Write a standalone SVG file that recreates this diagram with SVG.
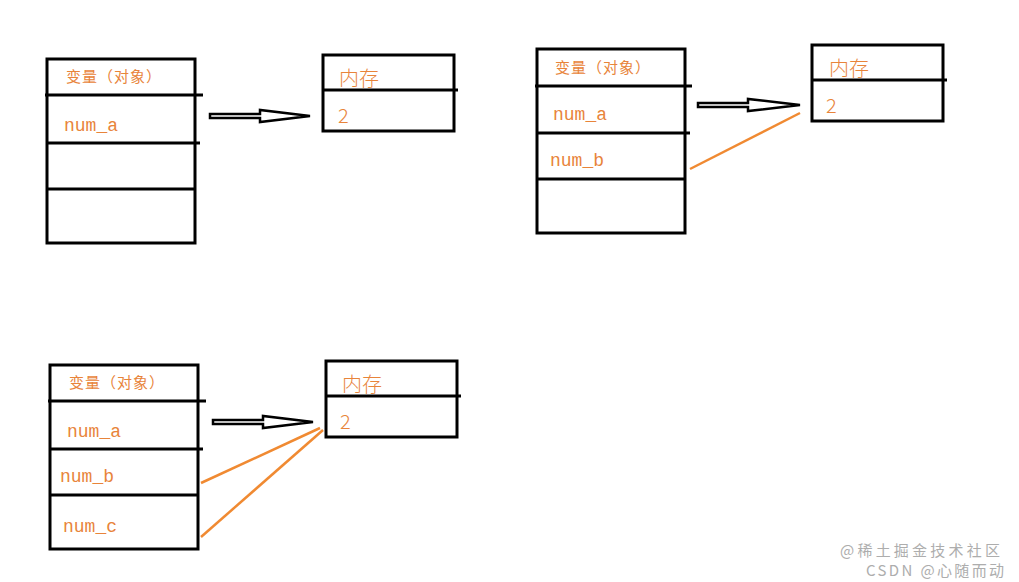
<svg xmlns="http://www.w3.org/2000/svg" width="1019" height="582" viewBox="0 0 1019 582">
<style>
.b{fill:none;stroke:#000;stroke-width:3}
.l{stroke:#000;stroke-width:3}
.t{fill:#e8843a;font-family:"Liberation Mono","Noto Sans CJK SC",monospace;font-size:18px}
.h{fill:#e8843a;font-family:"Noto Sans CJK SC",sans-serif;font-size:15px;letter-spacing:1px}
.m{fill:#e8843a;font-family:"Noto Sans CJK SC",sans-serif;font-size:20px;font-weight:300}
.o{stroke:#f08a32;stroke-width:2.5}
.a{fill:#fff;stroke:#000;stroke-width:2.5}
.w{fill:#999;font-family:"Noto Sans CJK SC",sans-serif;font-size:15px;opacity:.8}
</style>
<rect width="1019" height="582" fill="#fff"/>
<g id="vars1"><rect class="b" x="47" y="59" width="148" height="184"/><line class="l" x1="45" y1="95" x2="203" y2="95"/><line class="l" x1="47" y1="143" x2="200" y2="143"/><line class="l" x1="47" y1="189" x2="195" y2="189"/>
<text class="h" x="66" y="82">变量（对象）</text><text class="t" x="64" y="131">num_a</text></g>
<g id="mem1"><rect class="b" x="323" y="55" width="131" height="76"/><line class="l" x1="323" y1="90" x2="458" y2="90"/><text class="m" x="339" y="86">内存</text><text class="m" x="338" y="123">2</text></g>
<g id="vars2"><rect class="b" x="537" y="49" width="148" height="184"/><line class="l" x1="535" y1="86" x2="692" y2="86"/><line class="l" x1="537" y1="133" x2="690" y2="133"/><line class="l" x1="537" y1="179" x2="685" y2="179"/>
<text class="h" x="555" y="73">变量（对象）</text><text class="t" x="553" y="120">num_a</text><text class="t" x="550" y="166">num_b</text></g>
<g id="mem2"><rect class="b" x="812" y="45" width="131" height="76"/><line class="l" x1="812" y1="80" x2="947" y2="80"/><text class="m" x="829" y="76">内存</text><text class="m" x="826" y="113">2</text></g>
<g id="vars3"><rect class="b" x="50" y="365" width="148" height="184"/><line class="l" x1="48" y1="401" x2="206" y2="401"/><line class="l" x1="50" y1="449" x2="203" y2="449"/><line class="l" x1="50" y1="495" x2="198" y2="495"/>
<text class="h" x="69" y="388">变量（对象）</text><text class="t" x="67" y="437">num_a</text><text class="t" x="60" y="482">num_b</text><text class="t" x="63" y="532">num_c</text></g>
<g id="mem3"><rect class="b" x="326" y="361" width="131" height="76"/><line class="l" x1="326" y1="396" x2="461" y2="396"/><text class="m" x="342" y="392">内存</text><text class="m" x="340" y="429">2</text></g>
<g id="connectors">
<polygon class="a" points="210,114 260,114 260,110 310,116 260,122 260,118 210,118"/>
<polygon class="a" points="698,103 748,103 748,99 800,105 748,111 748,107 698,107"/>
<polygon class="a" points="213,420 263,420 263,416 313,422 263,428 263,424 213,424"/>
<line class="o" x1="690" y1="169" x2="800" y2="113"/>
<line class="o" x1="201" y1="483" x2="320" y2="428"/>
<line class="o" x1="201" y1="537" x2="323" y2="430"/>
</g>
<text class="w" x="840" y="556" textLength="160">@稀土掘金技术社区</text>
<text class="w" x="866" y="576" textLength="138">CSDN @心随而动</text>
</svg>
